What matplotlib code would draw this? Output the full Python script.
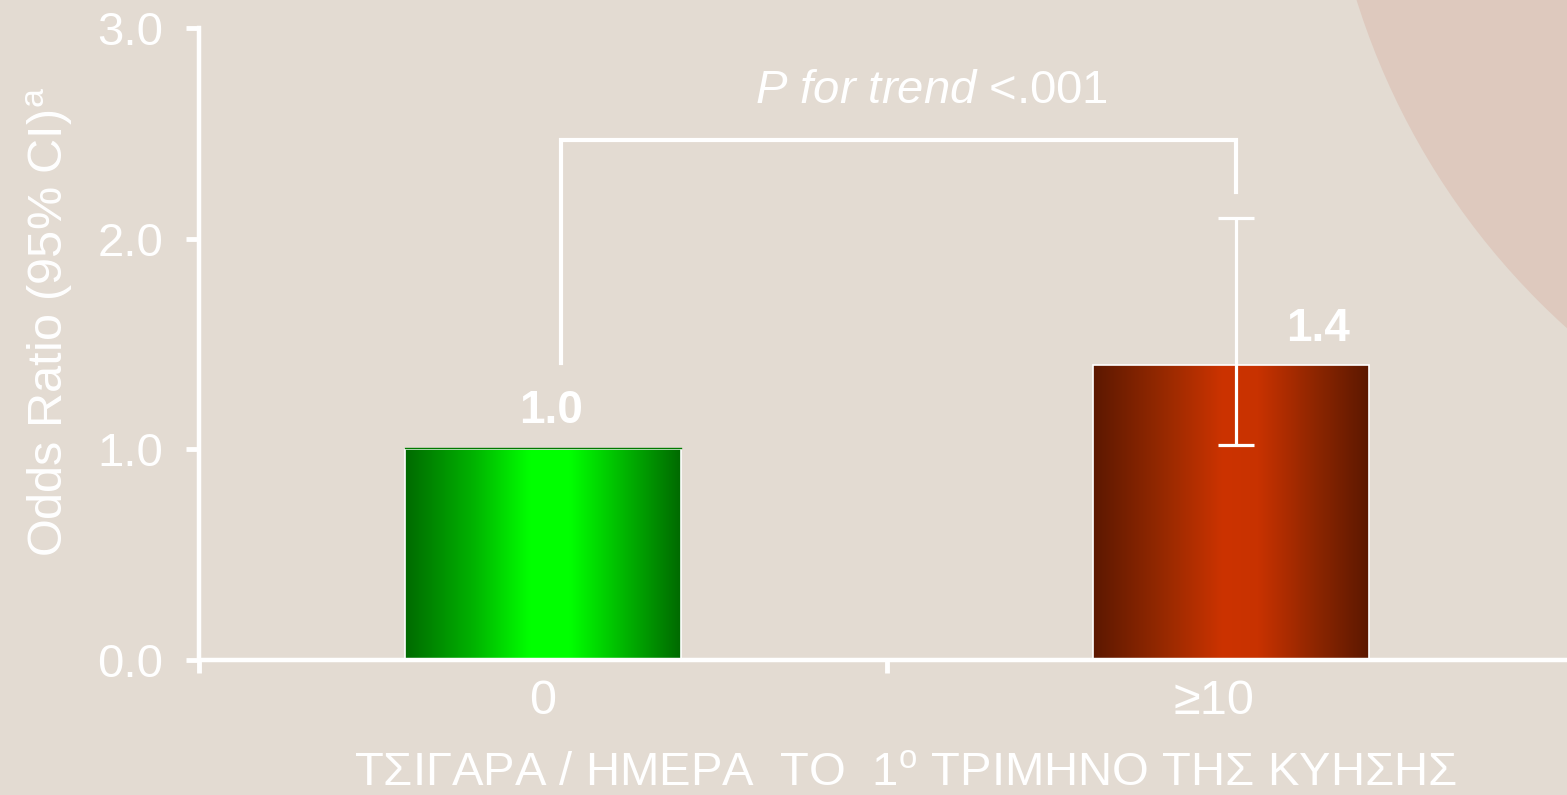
import numpy as np
import matplotlib
matplotlib.use('Agg')
import matplotlib.pyplot as plt
import matplotlib.transforms as mtransforms
from matplotlib.colors import LinearSegmentedColormap
from matplotlib.patches import Ellipse

# data
categories = ['0', '≥10']
odds_ratios = [1.0, 1.4]
ci_low = [np.nan, 1.02]
ci_high = [np.nan, 2.10]
value_labels = ['1.0', '1.4']
y_ticks = [0.0, 1.0, 2.0, 3.0]
y_tick_labels = ['0.0', '1.0', '2.0', '3.0']
p_label = r'$\mathit{P\ for\ trend}$ <.001'
x_title = r'ΤΣΙΓΑΡΑ / ΗΜΕΡΑ  ΤΟ  1$^{\mathregular{o}}$ ΤΡΙΜΗΝΟ ΤΗΣ ΚΥΗΣΗΣ'
y_title = r'Odds Ratio (95% CI)$^{\mathregular{a}}$'

bg = '#E3DBD2'
plt.rcParams['font.family'] = ['Liberation Sans', 'DejaVu Sans']
plt.rcParams['mathtext.fontset'] = 'custom'
plt.rcParams['mathtext.rm'] = 'Liberation Sans'
plt.rcParams['mathtext.it'] = 'Liberation Sans:italic'
plt.rcParams['mathtext.bf'] = 'Liberation Sans:bold'

fig = plt.figure(figsize=(15.67, 7.95), dpi=100, facecolor=bg)

# decorative disc in the top right corner
disc = Ellipse((2061 / 1567, 1015 / 795), 2 * 738 / 1567, 2 * 738 / 795,
               transform=fig.transFigure, facecolor='#DEC9BE', edgecolor='none', zorder=0)
fig.add_artist(disc)

# axes run a little past the right edge of the slide
ax = fig.add_axes([199 / 1567, 135 / 795, 1376 / 1567, 632 / 795])
ax.patch.set_alpha(0)

green = LinearSegmentedColormap.from_list('g', [
    (0.0, '#006A00'), (0.25, '#00B400'), (0.45, '#00FF00'),
    (0.6, '#00FF00'), (0.8, '#00B400'), (1.0, '#006A00')])
red = LinearSegmentedColormap.from_list('r', [
    (0.0, '#5C1800'), (0.27, '#9A2A00'), (0.47, '#CC3300'),
    (0.6, '#C83200'), (0.82, '#8A2500'), (1.0, '#5C1800')])

x = np.arange(len(categories))
width = 0.4
bars = ax.bar(x, odds_ratios, width, facecolor='none', edgecolor='white',
              linewidth=1.2, zorder=3)
grad = np.linspace(0, 1, 256).reshape(1, -1)
for bar, cmap in zip(bars, [green, red]):
    bx, bw, bh = bar.get_x(), bar.get_width(), bar.get_height()
    im = ax.imshow(grad, cmap=cmap, aspect='auto', extent=[bx, bx + bw, 0, bh],
                   zorder=2, interpolation='bicubic')
    im.set_clip_path(bar)

# thin dark rim just above the green bar, as on the slide
ax.plot([bars[0].get_x(), bars[0].get_x() + width], [odds_ratios[0] + 0.008] * 2,
        color='#007A00', lw=1, zorder=3)

# confidence interval
lo = np.array(odds_ratios) - np.array(ci_low)
hi = np.array(ci_high) - np.array(odds_ratios)
ax.errorbar(x[1] + 0.007, odds_ratios[1], yerr=[[lo[1]], [hi[1]]], fmt='none',
            ecolor='white', elinewidth=2.3, capsize=13, capthick=2.3, zorder=4)

# value labels
offsets = [(6, 19), (63, 17)]
for xi, v, lab, off in zip(x, odds_ratios, value_labels, offsets):
    ax.annotate(lab, (xi, v), xytext=off, textcoords='offset points',
                ha='center', va='baseline', fontsize=33, fontweight='bold',
                color='white', zorder=5)

# trend bracket
bx0, bx1 = x[0] + 0.026, x[1] + 0.007
top = 2.47
ax.plot([bx0, bx0, bx1, bx1], [odds_ratios[1] + 0.01, top, top, ci_high[1] + 0.12],
        color='white', lw=3, solid_joinstyle='miter', zorder=4)
ax.text(0.532, 0.881, p_label, transform=ax.transAxes, ha='center',
        va='baseline', fontsize=34, color='white')

ax.set_xlim(-0.5, 1.5)
ax.set_ylim(0, 3)

for s in ['top', 'right']:
    ax.spines[s].set_visible(False)
for s in ['left', 'bottom']:
    ax.spines[s].set_color('white')
    ax.spines[s].set_linewidth(3.2)

ax.set_yticks(y_ticks, y_tick_labels)
ax.tick_params(axis='y', direction='out', length=9.5, width=3.5, color='white',
               labelcolor='white', labelsize=34, pad=16)
ax.set_xticks(x, categories)
ax.set_xticks([-0.5, 0.5, 1.5], minor=True)
ax.tick_params(axis='x', which='major', length=0, labelcolor='white',
               labelsize=35, pad=14)
ax.tick_params(axis='x', which='minor', direction='out', length=9.5, width=3.5,
               color='white')

# the second category label sits a bit left of its bar on the slide
lbl = ax.get_xticklabels()[1]
lbl.set_transform(lbl.get_transform() +
                  mtransforms.ScaledTranslation(-12 / 72, 0, fig.dpi_scale_trans))

ax.text(0.5136, -0.198, x_title, transform=ax.transAxes, ha='center',
        va='baseline', fontsize=34, color='white')
ax.text(-0.0986, 0.163, y_title, transform=ax.transAxes, rotation=90,
        rotation_mode='anchor', ha='left', va='baseline', fontsize=35,
        color='white')

fig.savefig('out.png', dpi=100, facecolor=bg)
plt.close(fig)
